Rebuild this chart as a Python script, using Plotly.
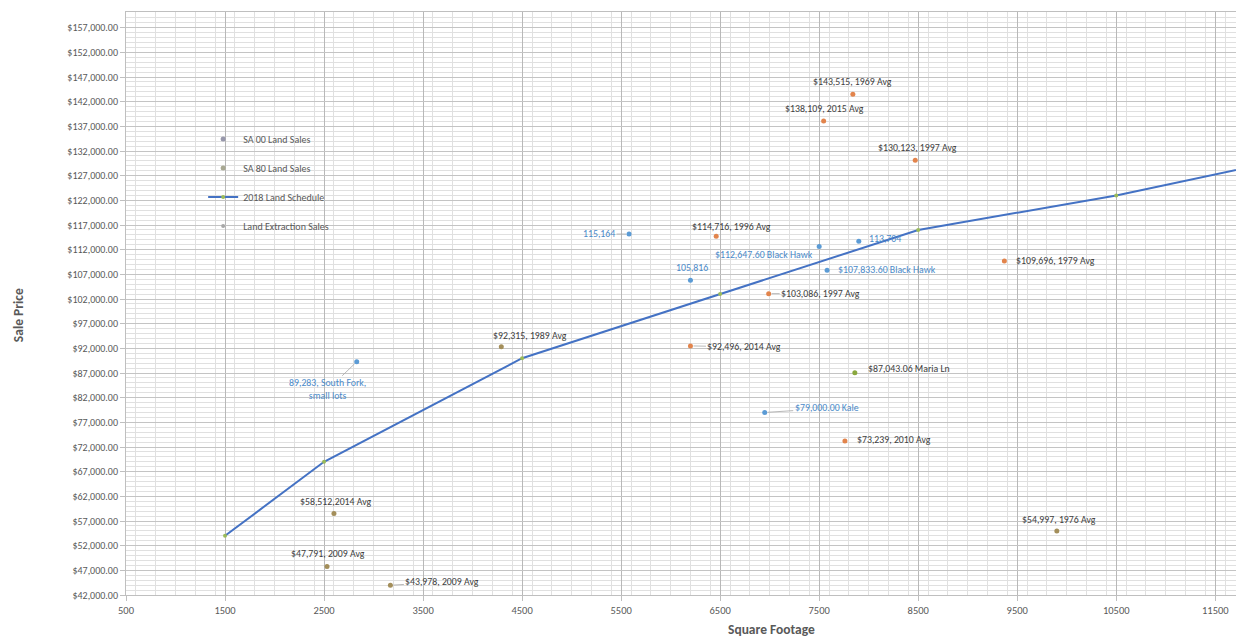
import plotly.graph_objects as go

# ---------------- data ----------------
# SA 00 Land Sales (orange)
sa00_x = [7840, 7545, 8470, 6460, 6990, 6200, 7760, 9370]
sa00_y = [143515, 138109, 130123, 114716, 103086, 92496, 73239, 109696]
sa00_lbl = ["$143,515, 1969 Avg", "$138,109, 2015 Avg", "$130,123, 1997 Avg",
            "$114,716, 1996 Avg", "$103,086, 1997 Avg", "$92,496, 2014 Avg",
            "$73,239, 2010 Avg", "$109,696, 1979 Avg"]

# SA 80 Land Sales (olive / brown)
sa80_x = [4290, 2600, 2530, 3170, 9900]
sa80_y = [92315, 58512, 47791, 43978, 54997]
sa80_lbl = ["$92,315, 1989 Avg", "$58,512,2014 Avg", "$47,791, 2009 Avg",
            "$43,978, 2009 Avg", "$54,997, 1976 Avg"]

# Maria Ln sale (green)
maria_x = [7860]
maria_y = [87043.06]
maria_lbl = ["$87,043.06 Maria Ln"]

# 2018 Land Schedule (line)
sched_x = [1500, 2500, 4500, 6500, 8500, 10500, 12500]
sched_y = [54000, 69000, 90000, 103000, 116000, 123000, 131500]

# Land Extraction Sales (blue)
ext_x = [5580, 6200, 7500, 7900, 7580, 6950, 2830]
ext_y = [115164, 105816, 112647.60, 113704, 107833.60, 79000.00, 89283]
ext_lbl = ["115,164", "105,816", "$112,647.60 Black Hawk", "113,704",
           "$107,833.60 Black Hawk", "$79,000.00 Kale", "89,283, South Fork,<br>small lots"]

legend_names = ["SA 00 Land Sales", "SA 80 Land Sales", "2018 Land Schedule", "Land Extraction Sales"]

# ---------------- label placement (pixels) ----------------
# (mode, dx, dy): 'c' centred + shift, 'l' left-anchored, 'r' right-anchored,
# 'a' leader line (dx, dy = text centre offset in pixels, y down)
sa00_pos = [("c", 0, 12), ("c", 1, 12), ("c", 2, 12), ("c", 15, 9),
            ("a", 52, 0), ("a", 54, 1), ("l", 10, 1), ("l", 10, 0)]
sa80_pos = [("c", 29, 11), ("c", 2, 12), ("c", 1, 12), ("a", 52, -3), ("c", 2, 11)]
maria_pos = [("l", 11, 4)]
ext_pos = [("a", -30, 0), ("c", 2, 12), ("c", -55, -9), ("l", 8, 2),
           ("l", 9, 0), ("a", 62, -4), ("a", -29, 28)]

FONT = "Calibri, Carlito, Lato, sans-serif"
ORANGE = "#E2844C"
OLIVE = "#A38E5A"
BLUE = "#5B9BD5"
LINE = "#4472C4"
GREEN = "#9BBB59"
DARK = "#404040"
GREY = "#595959"
LBL = 9.8

fig = go.Figure()

fig.add_trace(go.Scatter(x=sa00_x, y=sa00_y, mode="markers", showlegend=False,
                         marker=dict(size=5, color=ORANGE)))
fig.add_trace(go.Scatter(x=sa80_x, y=sa80_y, mode="markers", showlegend=False,
                         marker=dict(size=5, color=OLIVE)))
fig.add_trace(go.Scatter(x=maria_x, y=maria_y, mode="markers", showlegend=False,
                         marker=dict(size=5, color="#8AA83E")))
fig.add_trace(go.Scatter(x=ext_x, y=ext_y, mode="markers", showlegend=False,
                         marker=dict(size=5, color=BLUE)))
fig.add_trace(go.Scatter(x=sched_x, y=sched_y, mode="lines+markers", showlegend=False,
                         line=dict(color=LINE, width=2),
                         marker=dict(size=4, color=GREEN)))

# legend entries (faded, as in the reference legend)
leg_styles = [dict(mode="markers", marker=dict(size=5, color="#9898AC")),
              dict(mode="markers", marker=dict(size=5, color="#A8A892")),
              dict(mode="lines+markers", line=dict(color=LINE, width=2), marker=dict(size=4, color=GREEN)),
              dict(mode="markers", marker=dict(size=4, color="#A8A8A8"))]
for i, (nm, st) in enumerate(zip(legend_names, leg_styles)):
    fig.add_trace(go.Scatter(x=[None], y=[None], name=nm, legendgroup=f"g{i}", **st))


def add_labels(xs, ys, labels, positions, color):
    for x, y, t, (mode, dx, dy) in zip(xs, ys, labels, positions):
        f = dict(family=FONT, size=LBL, color=color)
        if mode == "a":
            fig.add_annotation(x=x, y=y, text=t, showarrow=True, ax=dx, ay=dy,
                               arrowhead=0, arrowwidth=0.8, arrowcolor="#A6A6A6",
                               standoff=3, font=f, borderpad=1)
        elif mode == "c":
            fig.add_annotation(x=x, y=y, text=t, showarrow=False, xanchor="center",
                               yanchor="middle", xshift=dx, yshift=dy, font=f)
        elif mode == "l":
            fig.add_annotation(x=x, y=y, text=t, showarrow=False, xanchor="left",
                               yanchor="middle", xshift=dx, yshift=dy, font=f)
        else:
            fig.add_annotation(x=x, y=y, text=t, showarrow=False, xanchor="right",
                               yanchor="middle", xshift=dx, yshift=dy, font=f)


add_labels(sa00_x, sa00_y, sa00_lbl, sa00_pos, DARK)
add_labels(sa80_x, sa80_y, sa80_lbl, sa80_pos, DARK)
add_labels(maria_x, maria_y, maria_lbl, maria_pos, DARK)
add_labels(ext_x, ext_y, ext_lbl, ext_pos, "#4A8AC9")

# axis titles (page has an 8px body margin; plot area spans page x 126..1244, y 12..595)
fig.add_annotation(text="<b>Square Footage</b>", xref="paper", yref="paper",
                   x=0.577, y=-0.060, showarrow=False, xanchor="center", yanchor="middle",
                   font=dict(family=FONT, size=13.5, color=GREY))
fig.add_annotation(text="<b>Sale Price</b>", xref="paper", yref="paper",
                   x=-0.0966, y=0.48, showarrow=False, textangle=-90,
                   xanchor="center", yanchor="middle",
                   font=dict(family=FONT, size=13.5, color=GREY))

fig.update_layout(
    width=1236, height=631,
    margin=dict(l=118, r=0, t=4, b=44, autoexpand=False),
    paper_bgcolor="white", plot_bgcolor="white",
    font=dict(family=FONT, color=GREY),
    legend=dict(x=0.069, y=0.807, xanchor="left", yanchor="top",
                bgcolor="rgba(0,0,0,0)", font=dict(family=FONT, size=10, color=GREY),
                tracegroupgap=10, itemwidth=30),
    showlegend=True,
)

fig.update_xaxes(range=[500, 11790], tick0=500, dtick=1000, tickformat="d",
                 automargin=False,
                 showgrid=True, gridcolor="#B8B8B8", gridwidth=1,
                 minor=dict(dtick=200, showgrid=True, gridcolor="#E0E0E0", gridwidth=1),
                 showline=True, linecolor="#BFBFBF", mirror=True,
                 ticks="outside", ticklen=5, tickcolor="#BFBFBF",
                 tickfont=dict(family=FONT, size=10.5, color=GREY), zeroline=False)
fig.update_yaxes(range=[42000, 160180], tick0=42000, dtick=5000, tickformat="$,.2f",
                 automargin=False,
                 showgrid=True, gridcolor="#C4C4C4", gridwidth=1,
                 minor=dict(dtick=1000, showgrid=True, gridcolor="#E0E0E0", gridwidth=1),
                 showline=True, linecolor="#BFBFBF", mirror=True,
                 ticks="outside", ticklen=5, tickcolor="#BFBFBF",
                 tickfont=dict(family=FONT, size=10, color=GREY), zeroline=False)

fig.write_html("out.html")
